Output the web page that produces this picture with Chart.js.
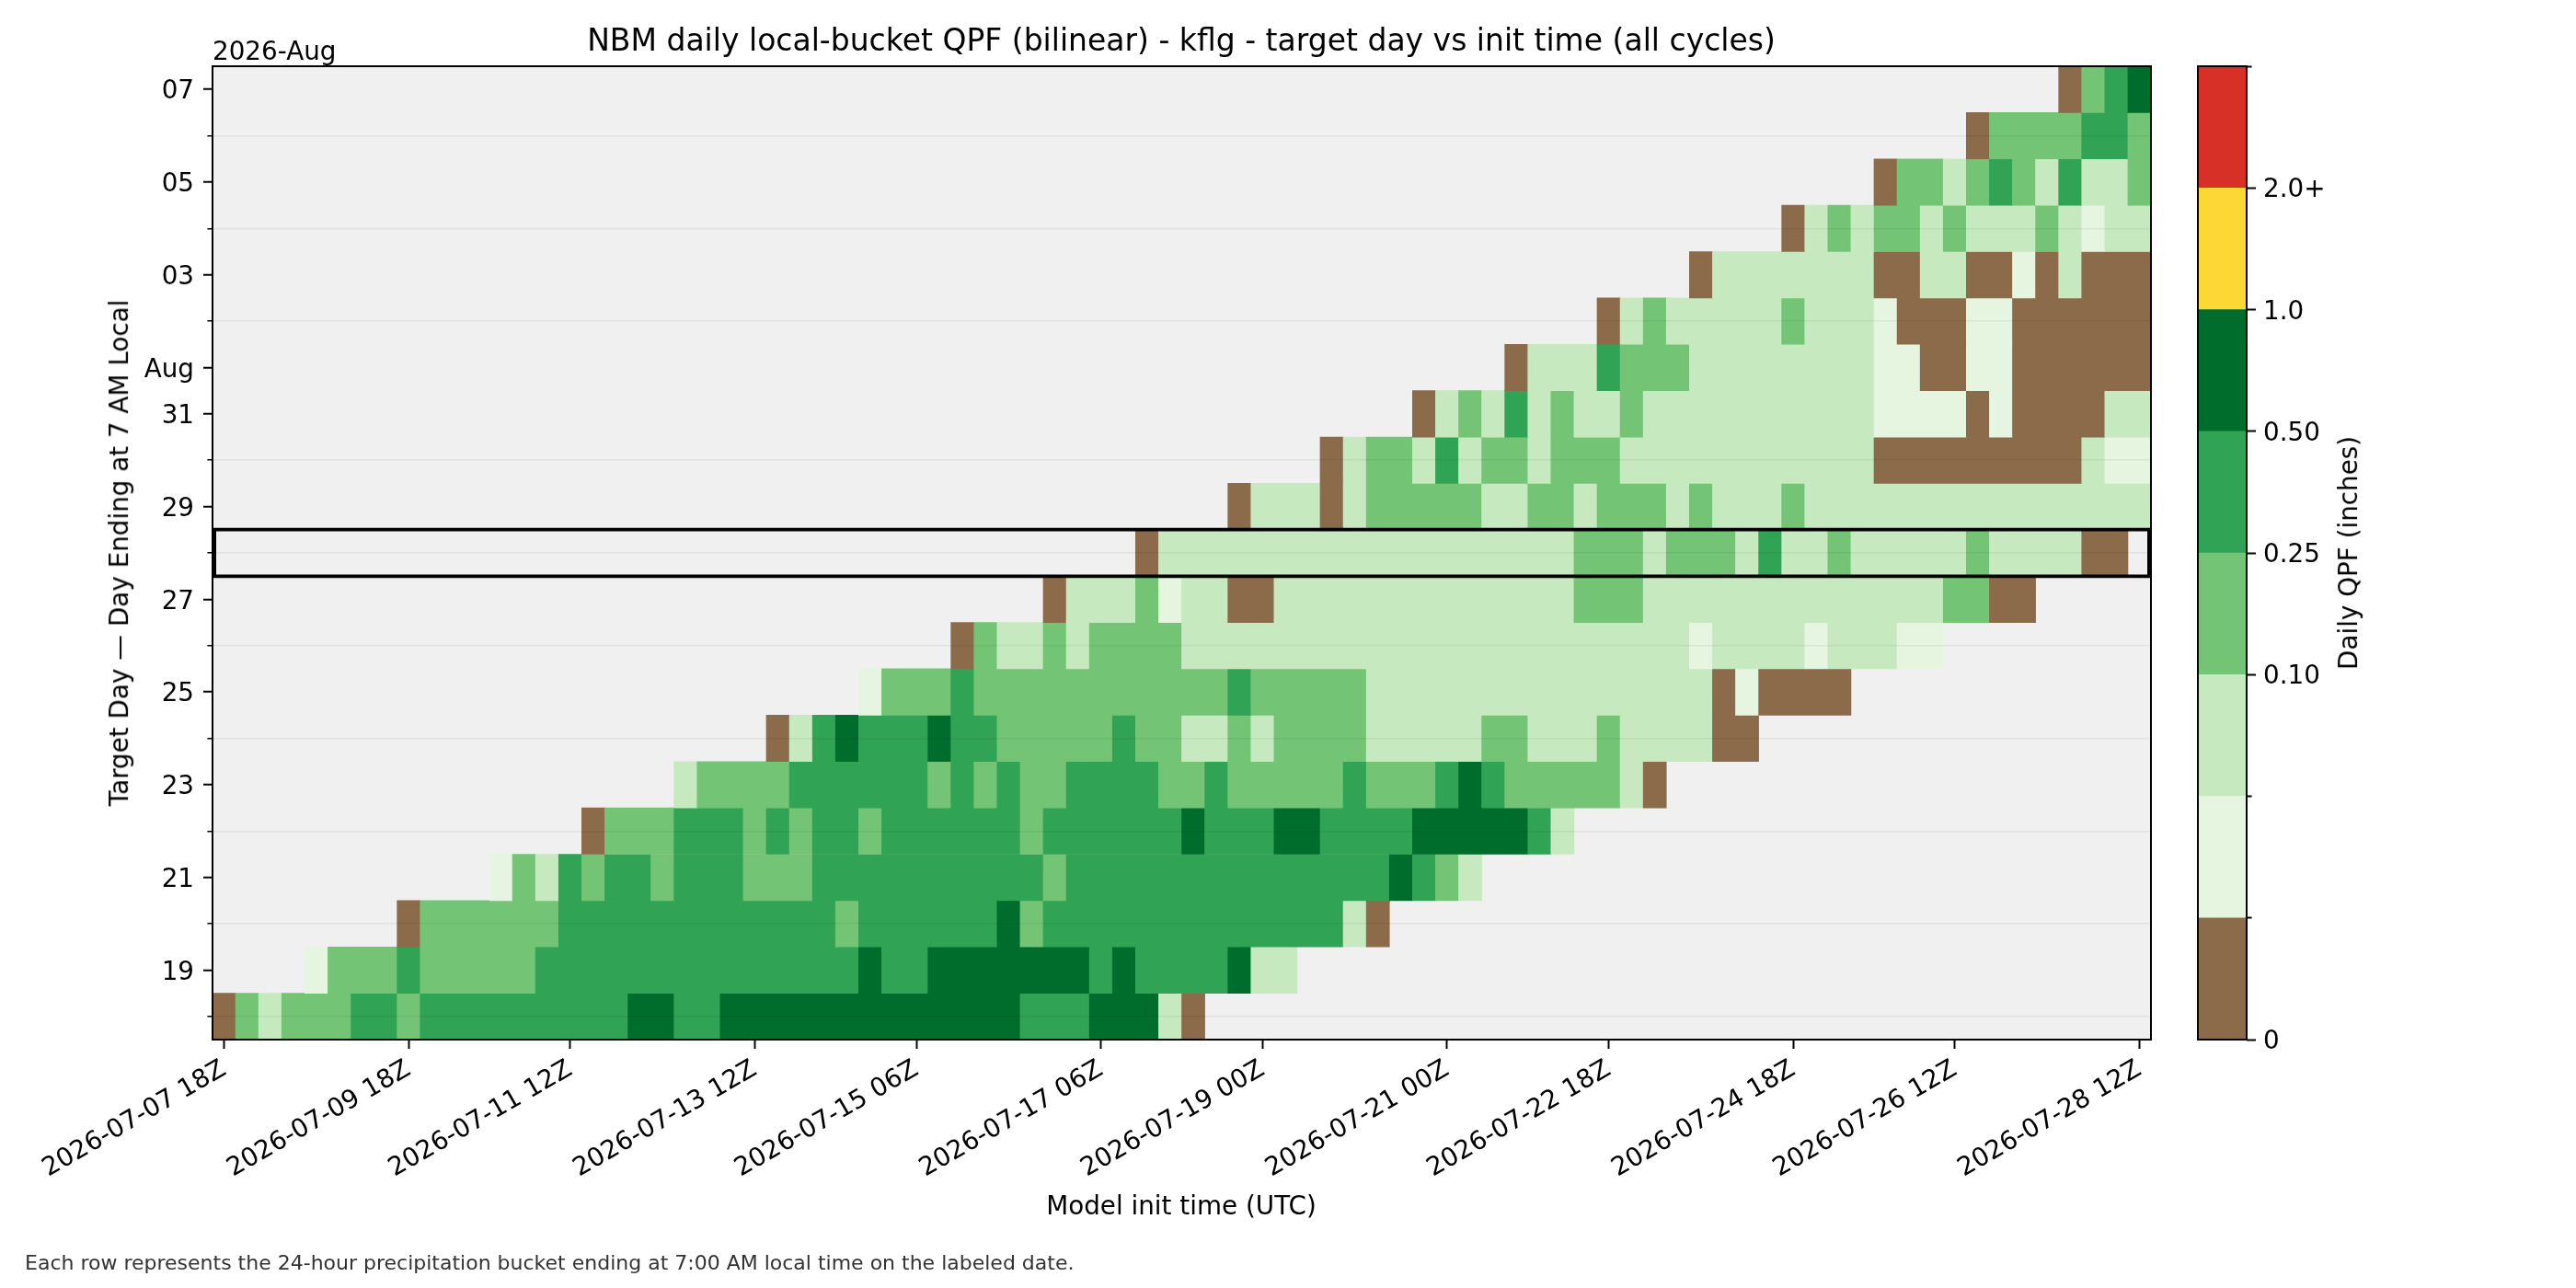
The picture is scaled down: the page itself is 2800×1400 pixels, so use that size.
<!DOCTYPE html>
<html>
<head>
<meta charset="utf-8">
<title>NBM daily local-bucket QPF - kflg</title>
<script src="https://cdn.jsdelivr.net/npm/chart.js@4.4.1/dist/chart.umd.min.js"></script>
<style>
  html, body { margin: 0; padding: 0; background: #fff; }
  #wrap { position: relative; width: 2800px; height: 1400px; font-family: "DejaVu Sans", sans-serif; }
  #main { position: absolute; left: 0; top: 0; }
  #cbar { position: absolute; left: 2380px; top: 47px; }
  .t { position: absolute; white-space: nowrap; line-height: 1; color: #000; }
  .rot { transform: translate(-50%, -50%) rotate(-90deg); }
</style>
</head>
<body>
<div id="wrap">
  <canvas id="main" width="2800" height="1400"></canvas>
  <canvas id="cbar" width="170" height="1108"></canvas>
  <div class="t" style="left:1284px; top:27px; font-size:33px; transform:translateX(-50%);">NBM daily local-bucket QPF (bilinear) - kflg - target day vs init time (all cycles)</div>
  <div class="t" style="left:231px; top:42px; font-size:27.8px;">2026-Aug</div>
  <div class="t rot" style="left:130px; top:601px; font-size:27.8px;">Target Day — Day Ending at 7 AM Local</div>
  <div class="t" style="left:1284px; top:1297px; font-size:27.8px; transform:translateX(-50%);">Model init time (UTC)</div>
  <div class="t rot" style="left:2553px; top:601px; font-size:27.8px;">Daily QPF (inches)</div>
  <div class="t" style="left:27px; top:1362px; font-size:22px; color:#333;">Each row represents the 24-hour precipitation bucket ending at 7:00 AM local time on the labeled date.</div>
</div>
<script>
// init cycles: every 6 h from 2026-07-07 18Z to 2026-07-28 12Z
const initCount = 84;
const xTickIndex = [0, 8, 15, 23, 30, 38, 45, 53, 60, 68, 75, 83];
const xTickLabels = ['2026-07-07 18Z', '2026-07-09 18Z', '2026-07-11 12Z', '2026-07-13 12Z',
  '2026-07-15 06Z', '2026-07-17 06Z', '2026-07-19 00Z', '2026-07-21 00Z',
  '2026-07-22 18Z', '2026-07-24 18Z', '2026-07-26 12Z', '2026-07-28 12Z'];

// target days, bottom row first
const targetDays = ['Jul 18', 'Jul 19', 'Jul 20', 'Jul 21', 'Jul 22', 'Jul 23', 'Jul 24',
  'Jul 25', 'Jul 26', 'Jul 27', 'Jul 28', 'Jul 29', 'Jul 30', 'Jul 31',
  'Aug 1', 'Aug 2', 'Aug 3', 'Aug 4', 'Aug 5', 'Aug 6', 'Aug 7'];
const yTickLabels = ['', '19', '', '21', '', '23', '', '25', '', '27', '', '29', '', '31',
  'Aug', '', '03', '', '05', '', '07'];
const highlightDay = 'Jul 28';

// first init cycle (index) that has a bucket for each target day
const firstCycle = [0, 4, 8, 12, 16, 20, 24, 28, 32, 36, 40, 44, 48, 52, 56, 60, 64, 68, 72, 76, 80];

// QPF bin per init cycle, run-length coded ("bin*count"); B = 0 / trace bin
const qpfRuns = [
  'B 3 2 3*3 4*2 3 4*9 5*2 4*2 5*13 4*3 5*3 2 B',
  '1 3*3 4 3*5 4*14 5 4*2 5*7 4 5 4*4 5 2*2',
  'B 3*6 4*12 3 4*6 5 3 4*13 2 B',
  '1 3 2 4 3 4*2 3 4*3 3*3 4*10 3 4*14 5 4 3 2',
  'B 3*3 4*3 3 4 3 4*2 3 4*6 3 4*6 5 4*3 5*2 4*4 5*5 4 2',
  '2 3*4 4*6 3 4 3 4 3*2 4*4 3*2 4 3*5 4 3*3 4 5 4 3*5 2 B',
  'B 2 4 5 4*3 5 4*2 3*5 4 3*2 2*2 3 2 3*4 2*5 3*2 2*3 3 2*4 B*2',
  '1 3*3 4 3*11 4 3*5 2*15 B 1 B*4',
  'B 3 2*2 3 2 3*4 2*22 1 2*4 1 2*3 1*2',
  'B 2*3 3 1 2*2 B*2 2*13 3*3 2*13 3*2 B*2',
  'B 2*18 3*3 2 3*3 2 4 2*2 3 2*5 3 2*4 B*2',
  'B 2*3 B 2 3*5 2*2 3*2 2 3*3 2 3 2*3 3 2*15',
  'B 2 3*2 2 4 2 3*2 2 3*3 2*11 B*9 2 1*2',
  'B 2 3 2 4 2 3 2*2 3 2*10 1*4 B 1 B*4 2*2',
  'B 2*3 4 3*3 2*8 1*2 B*2 1*2 B*6',
  'B 2 3 2*5 3 2*3 1 B*3 1*2 B*6',
  'B 2*7 B*2 2*2 B*2 1 B 2 B*3',
  'B 2 3 2 3*2 2 3 2*3 3 2 1 2*2',
  'B 3*2 2 3 4 3 2 4 2*2 3',
  'B 3*4 4*2 3',
  'B 3 4 5'
];

// colour bins (inches): 0, 0.01, 0.05, 0.10, 0.25, 0.50, 1.0, 2.0+
const binColors = ['#8b6b4a', '#e5f5e0', '#c7e9c0', '#74c476', '#31a354', '#006d2c', '#fdd835', '#d73027'];
const binTickLabels = ['0', '', '', '0.10', '0.25', '0.50', '1.0', '2.0+', ''];

Chart.defaults.font.family = '"DejaVu Sans", sans-serif';
Chart.defaults.color = '#000';

// run-length rows -> floating bars
const cells = [];
qpfRuns.forEach((runs, row) => {
  let c = firstCycle[row];
  runs.split(' ').forEach(tok => {
    const [code, n] = tok.split('*');
    const len = n ? Number(n) : 1;
    cells.push({ x: [c - 0.5, c + len - 0.5], y: row, bin: code === 'B' ? 0 : Number(code) });
    c += len;
  });
});
const highlightRow = targetDays.indexOf(highlightDay);

const isMinor = ctx => yTickLabels[ctx.index] === '';

const plotFrame = {
  id: 'plotFrame',
  beforeDraw(chart) {
    const { ctx, chartArea: a } = chart;
    ctx.save();
    ctx.fillStyle = '#f0f0f0';
    ctx.fillRect(a.left, a.top, a.right - a.left, a.bottom - a.top);
    ctx.restore();
  },
  afterDraw(chart) {
    const { ctx, chartArea: a } = chart;
    ctx.save();
    ctx.strokeStyle = '#000';
    ctx.lineWidth = 2;
    ctx.strokeRect(a.left, a.top, a.right - a.left, a.bottom - a.top);
    ctx.restore();
  }
};

new Chart(document.getElementById('main'), {
  type: 'bar',
  data: {
    datasets: [
      {
        label: 'selected day',
        data: [{ x: [-0.5, initCount - 0.5], y: highlightRow }],
        backgroundColor: 'rgba(0,0,0,0)',
        borderColor: '#000',
        borderWidth: 4,
        borderSkipped: false,
        inflateAmount: 0,
        barPercentage: 1.09,
        categoryPercentage: 1,
        grouped: false,
        order: 0
      },
      {
        label: 'QPF',
        data: cells,
        backgroundColor: ctx => binColors[ctx.raw.bin],
        borderWidth: 0,
        barPercentage: 1,
        categoryPercentage: 1,
        grouped: false,
        order: 1
      }
    ]
  },
  options: {
    indexAxis: 'y',
    responsive: false,
    animation: false,
    layout: { padding: { left: 0, right: 462, top: 72, bottom: 0 } },
    plugins: { legend: { display: false }, tooltip: { enabled: false } },
    scales: {
      x: {
        type: 'linear',
        min: -0.5,
        max: initCount - 0.5,
        afterBuildTicks: s => { s.ticks = xTickIndex.map(v => ({ value: v })); },
        afterFit: s => { s.height = 270; },
        ticks: {
          autoSkip: false, minRotation: 30, maxRotation: 30, padding: 6,
          font: { size: 27.8 },
          callback: (v, i) => xTickLabels[i]
        },
        grid: { drawOnChartArea: false, tickLength: 10, tickWidth: 2, tickColor: '#000' },
        border: { display: false }
      },
      y: {
        type: 'linear',
        offset: false,
        min: -0.5,
        max: targetDays.length - 0.5,
        afterBuildTicks: s => { s.ticks = targetDays.map((d, i) => ({ value: i })); },
        afterFit: s => { s.width = 231; },
        ticks: {
          autoSkip: false, padding: 10, labelOffset: 3,
          font: { size: 27.8 },
          callback: (v, i) => yTickLabels[i]
        },
        grid: {
          offset: false,
          z: 1,
          color: ctx => isMinor(ctx) ? 'rgba(0,0,0,0.06)' : 'rgba(0,0,0,0)',
          lineWidth: 1.5,
          tickLength: 10,
          tickColor: '#000',
          tickWidth: ctx => isMinor(ctx) ? 1.6 : 2,
          tickBorderDash: ctx => isMinor(ctx) ? [0, 4.4, 5.6, 30] : []
        },
        border: { display: false }
      }
    }
  },
  plugins: [plotFrame]
});

// colour bar
const cbarFrame = {
  id: 'cbarFrame',
  afterDraw(chart) {
    const { ctx, chartArea: a } = chart;
    ctx.save();
    ctx.strokeStyle = '#000';
    ctx.lineWidth = 2;
    ctx.strokeRect(a.left, a.top, a.right - a.left, a.bottom - a.top);
    ctx.restore();
  }
};

new Chart(document.getElementById('cbar'), {
  type: 'bar',
  data: {
    labels: ['QPF'],
    datasets: binColors.map((c, i) => ({
      data: [[i, i + 1]],
      backgroundColor: c,
      borderWidth: 0,
      barPercentage: 1,
      categoryPercentage: 1,
      grouped: false
    }))
  },
  options: {
    responsive: false,
    animation: false,
    layout: { padding: { left: 9, right: 0, top: 25, bottom: 25 } },
    plugins: { legend: { display: false }, tooltip: { enabled: false } },
    scales: {
      x: { display: false },
      y: {
        position: 'right',
        min: 0,
        max: binColors.length,
        afterBuildTicks: s => { s.ticks = binTickLabels.map((l, i) => ({ value: i })); },
        afterFit: s => { s.width = 108; },
        ticks: { autoSkip: false, padding: 8, labelOffset: 3, font: { size: 27.8 }, callback: (v, i) => binTickLabels[i] },
        grid: {
          drawOnChartArea: false,
          tickLength: 10,
          tickColor: '#000',
          tickWidth: 2,
          tickBorderDash: ctx => binTickLabels[ctx.index] === '' ? [5.6, 30] : []
        },
        border: { display: false }
      }
    }
  },
  plugins: [cbarFrame]
});
</script>
</body>
</html>
